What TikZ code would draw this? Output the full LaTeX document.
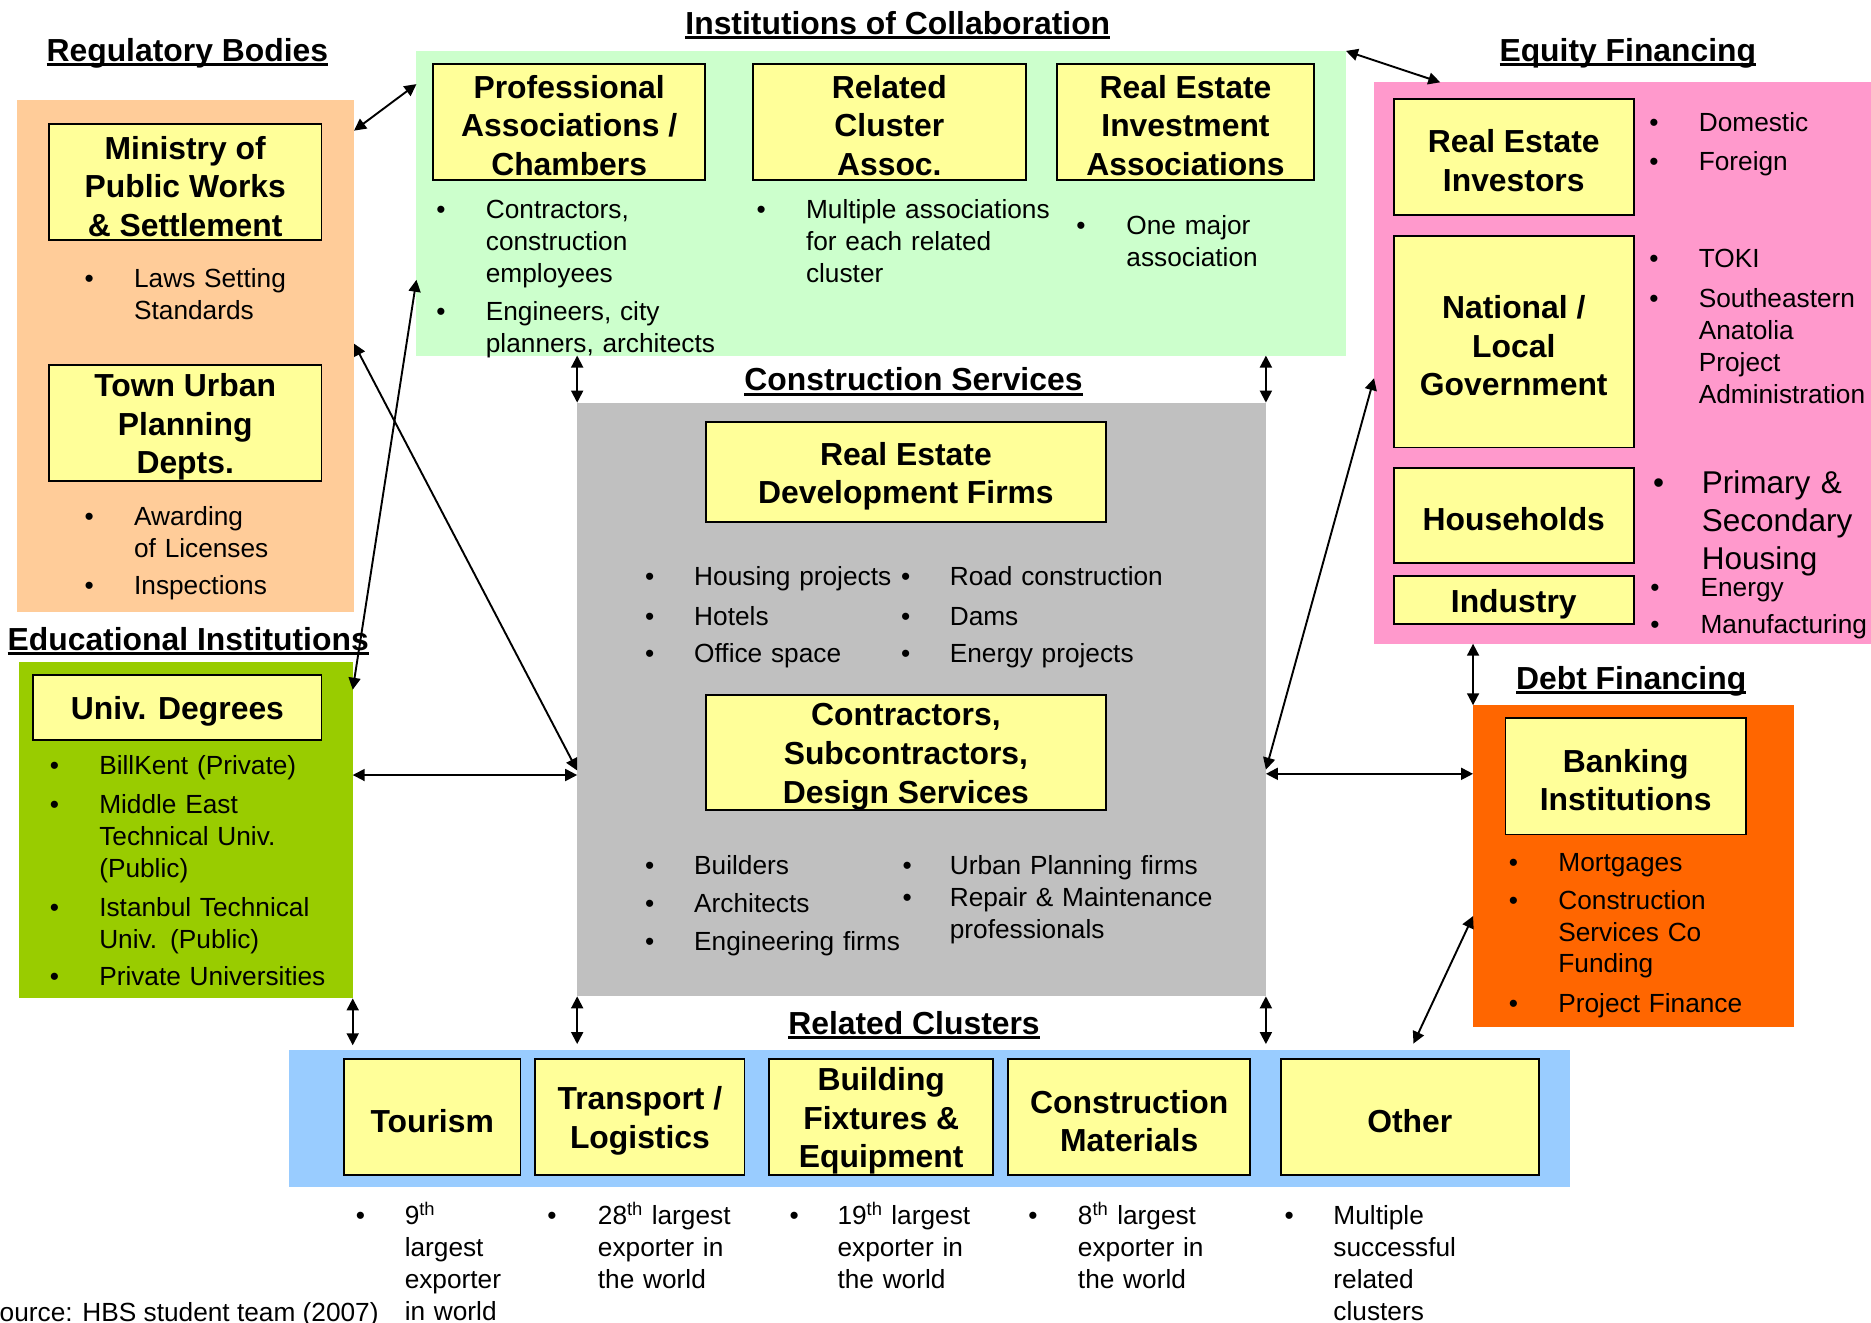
\documentclass[tikz,border=0pt]{standalone}
\usepackage{fontspec}
\setmainfont{Liberation Sans}
\usetikzlibrary{arrows.meta}

\definecolor{regfill}{HTML}{FFCC99}
\definecolor{edufill}{HTML}{99CC00}
\definecolor{instfill}{HTML}{CCFFCC}
\definecolor{consfill}{HTML}{C0C0C0}
\definecolor{eqfill}{HTML}{FF99CC}
\definecolor{debtfill}{HTML}{FF6600}
\definecolor{relfill}{HTML}{99CCFF}
\definecolor{boxfill}{HTML}{FFFF99}

\newcommand\boldtxt{\fontsize{26.7}{32.3}\selectfont\bfseries}
\newcommand\plaintxt{\fontsize{22}{26.8}\selectfont}
\newcommand\largetxt{\fontsize{26.4}{32}\selectfont}
% tall invisible strut on the first line of a box label
\newcommand\boxtop{\rule{0pt}{26pt}}
% heading with a thick underline
\newcommand\ultitle[1]{\setbox0=\hbox{#1}\rlap{\rule[-4pt]{\wd0}{2.5pt}}\box0}
% bullet item: name, bullet x, text x, first-line centre y, text
\newcommand\bitem[5]{%
  \node[bul] (#1b) at (#2,#4+7.5) {•};
  \node[btxt] (#1) at (#3,#4+7.5) {#5};}

\tikzset{
  panel/.style={anchor=north west, inner sep=0, outer sep=0, draw=none},
  ybox/.style={draw=black, line width=1.6pt, fill=boxfill, inner sep=0,
    align=center, font=\boldtxt},
  ttl/.style={anchor=base, inner sep=0, font=\boldtxt},
  bul/.style={anchor=base, inner sep=0, font=\plaintxt},
  btxt/.style={anchor=base west, inner sep=0, font=\plaintxt,
    text width=400pt, align=left},
  link/.style={{Triangle[length=10pt,width=10pt]}-{Triangle[length=10pt,width=10pt]},
    line width=1.6pt},
}

\begin{document}
\begin{tikzpicture}[x=1pt, y=-1pt]
\useasboundingbox (0,0) rectangle (1568,1108);
\fill[white] (0,0) rectangle (1568,1108);

% ---------- background panels ----------
\node[panel, fill=regfill,  minimum width=282.5, minimum height=429.1] (reg)  at (14.2,83.4) {};
\node[panel, fill=edufill,  minimum width=279.6, minimum height=281.7] (edu)  at (16,555) {};
\node[panel, fill=instfill, minimum width=779,   minimum height=255.3] (inst) at (349,42.7) {};
\node[panel, fill=consfill, minimum width=577.2, minimum height=497.6] (cons) at (483.7,337.4) {};
\node[panel, fill=eqfill,   minimum width=416.5, minimum height=470.5] (eq)   at (1151.5,69) {};
\node[panel, fill=debtfill, minimum width=268.8, minimum height=270]   (debt) at (1234.5,591) {};
\node[panel, fill=relfill,  minimum width=1073.4,minimum height=115]   (rel)  at (242.4,880) {};

% ---------- headings ----------
\node[ttl] (tReg)  at (157,51.2)   {\ultitle{Regulatory Bodies}};
\node[ttl] (tInst) at (752.4,29)   {\ultitle{Institutions of Collaboration}};
\node[ttl] (tEq)   at (1364.2,51.4){\ultitle{Equity Financing}};
\node[ttl] (tEdu)  at (157.7,545)  {\ultitle{Educational Institutions}};
\node[ttl] (tCons) at (765.5,327.5){\ultitle{Construction Services}};
\node[ttl] (tDebt) at (1367,578)   {\ultitle{Debt Financing}};
\node[ttl] (tRel)  at (766,867)    {\ultitle{Related Clusters}};

% ---------- regulatory bodies ----------
\node[ybox, minimum width=228.4, minimum height=97.5] (min)  at (155.2,152.75) {\boxtop Ministry of\\Public Works\\\& Settlement};
\node[ybox, minimum width=228.4, minimum height=97.2] (town) at (155.2,354.4) {\boxtop Town Urban\\Planning\\Depts.};
\bitem{laws}{74.8}{112.2}{233.5}{Laws Setting\\Standards}
\bitem{award}{74.8}{112.2}{432.6}{Awarding\\of Licenses}
\bitem{insp}{74.8}{112.2}{491}{Inspections}

% ---------- educational institutions ----------
\node[ybox, minimum width=241.4, minimum height=54] (univ) at (148.7,592.8) {\boxtop Univ. Degrees};
\bitem{bilk}{45.6}{83}{641.8}{BillKent (Private)}
\bitem{metu}{45.6}{83}{674.6}{Middle East\\Technical Univ.\\(Public)}
\bitem{itu}{45.6}{83}{760.3}{Istanbul Technical\\Univ. (Public)}
\bitem{priv}{45.6}{83}{818.5}{Private Universities}

% ---------- institutions of collaboration ----------
\node[ybox, minimum width=228,   minimum height=97.2] (prof) at (477,101.9)   {\boxtop Professional\\Associations /\\Chambers};
\node[ybox, minimum width=228.7, minimum height=97.2] (relc) at (745.3,101.9) {\boxtop Related\\Cluster\\Assoc.};
\node[ybox, minimum width=215.7, minimum height=97.2] (reia) at (993.5,101.9) {\boxtop Real Estate\\Investment\\Associations};
\bitem{contrs}{369.6}{407}{175.5}{Contractors,\\construction\\employees}
\bitem{engr}{369.6}{407}{261}{Engineers, city\\planners, architects}
\bitem{multi}{638}{675.3}{175.5}{Multiple associations\\for each related\\cluster}
\bitem{onemaj}{905.8}{943.8}{188.8}{One major\\association}

% ---------- construction services ----------
\node[ybox, minimum width=335.6, minimum height=83.8] (redf)  at (759.2,395.9) {\boxtop Real Estate\\Development Firms};
\node[ybox, minimum width=335.6, minimum height=93.8] (contr) at (759.2,630.5) {\boxtop Contractors,\\Subcontractors,\\Design Services};
\bitem{housing}{544.4}{581.6}{483.2}{Housing projects}
\bitem{hotels}{544.4}{581.6}{516.3}{Hotels}
\bitem{office}{544.4}{581.6}{548}{Office space}
\bitem{road}{759}{795.8}{483.2}{Road construction}
\bitem{dams}{759}{795.8}{516.3}{Dams}
\bitem{energyp}{759}{795.8}{548}{Energy projects}
\bitem{builders}{544.4}{581.6}{725.4}{Builders}
\bitem{archs}{544.4}{581.6}{757.6}{Architects}
\bitem{engfirms}{544.4}{581.6}{789}{Engineering firms}
\bitem{urban}{760.3}{795.8}{725.4}{Urban Planning firms}
\bitem{repair}{760.3}{795.8}{752.6}{Repair \& Maintenance\\professionals}

% ---------- equity financing ----------
\node[ybox, minimum width=201.3, minimum height=97]  (rei)  at (1268.6,131.5) {\boxtop Real Estate\\Investors};
\node[ybox, minimum width=201.3, minimum height=177] (natl) at (1268.6,286.5) {\boxtop National /\\Local\\Government};
\node[ybox, minimum width=201.3, minimum height=80]  (hh)   at (1268.6,432)   {\boxtop Households};
\node[ybox, minimum width=201.3, minimum height=40]  (ind)  at (1268.6,503)   {\boxtop Industry};
\bitem{dom}{1386}{1423.5}{103}{Domestic}
\bitem{forgn}{1386}{1423.5}{135}{Foreign}
\bitem{toki}{1386}{1423.5}{217}{TOKI}
\bitem{gap}{1386}{1423.5}{250}{Southeastern\\Anatolia\\Project\\Administration}
\node[bul, font=\largetxt] (housingb) at (1390,413.3) {•};
\node[btxt, font=\largetxt] (housingt) at (1426,413.3) {Primary \&\\Secondary\\Housing};
\bitem{energy}{1387}{1425}{492}{Energy}
\bitem{manuf}{1387}{1425}{523}{Manufacturing}

% ---------- debt financing ----------
\node[ybox, minimum width=201.4, minimum height=97.5] (bank) at (1362.4,650.6) {\boxtop Banking\\Institutions};
\bitem{mort}{1268.3}{1305.8}{722.5}{Mortgages}
\bitem{csfund}{1268.3}{1305.8}{754.3}{Construction\\Services Co\\Funding}
\bitem{projfin}{1268.3}{1305.8}{841}{Project Finance}

% ---------- related clusters ----------
\node[ybox, minimum width=148,   minimum height=96.7] (tour)  at (362.2,936.2)  {\boxtop Tourism};
\node[ybox, minimum width=175.2, minimum height=96.7] (trans) at (536.3,936.2)  {\boxtop Transport /\\Logistics};
\node[ybox, minimum width=187.6, minimum height=96.7] (build) at (738.5,936.2)  {\boxtop Building\\Fixtures \&\\Equipment};
\node[ybox, minimum width=202.9, minimum height=96.7] (cmat)  at (946.35,936.2) {\boxtop Construction\\Materials};
\node[ybox, minimum width=215.9, minimum height=96.7] (other) at (1181.5,936.2) {\boxtop Other};
\bitem{tourx}{302}{339}{1018.7}{9\textsuperscript{th}\\largest\\exporter\\in world}
\bitem{transx}{462.6}{500.9}{1018.7}{28\textsuperscript{th} largest\\exporter in\\the world}
\bitem{buildx}{665.5}{701.7}{1018.7}{19\textsuperscript{th} largest\\exporter in\\the world}
\bitem{cmatx}{865.7}{903.2}{1018.7}{8\textsuperscript{th} largest\\exporter in\\the world}
\bitem{otherx}{1080.4}{1117.3}{1018.7}{Multiple\\successful\\related\\clusters}

\node[anchor=base east, inner sep=0, font=\plaintxt] (src) at (317.5,1107.7) {Source: HBS student team (2007)};

% ---------- connectors ----------
\draw[link] (reg.east |- 0,109.5) -- (inst.west |- 0,70.5);
\draw[link] (edu.east |- 0,578) -- (inst.west |- 0,234.5);
\draw[link] (reg.east |- 0,288) -- (cons.west |- 0,645.7);
\draw[link] (edu.east |- 0,649.5) -- (cons.west |- 0,649.5);
\draw[link] (cons.north west |- inst.south) -- (cons.north west);
\draw[link] (cons.north east |- inst.south) -- (cons.north east);
\draw[link] (inst.north east) -- (1207,0 |- eq.north);
\draw[link] (eq.west |- 0,317) -- (cons.east |- 0,645);
\draw[link] (cons.east |- 0,648.5) -- (debt.west |- 0,648.5);
\draw[link] (debt.north west |- eq.south) -- (debt.north west);
\draw[link, shorten >=4pt] (edu.south east) -- (edu.south east |- rel.north);
\draw[link, shorten >=5pt] (cons.south west) -- (cons.south west |- rel.north);
\draw[link, shorten >=5pt] (cons.south east) -- (cons.south east |- rel.north);
\draw[link, shorten >=6pt] (debt.west |- 0,767.7) -- (1182,0 |- rel.north);
\end{tikzpicture}
\end{document}
